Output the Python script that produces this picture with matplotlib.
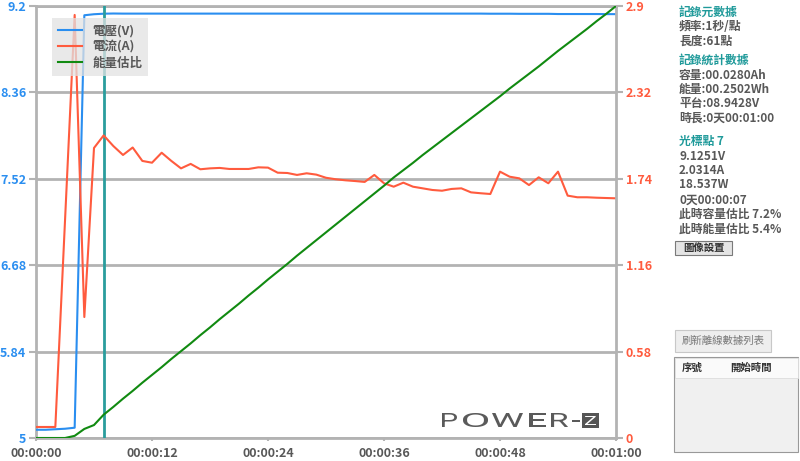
import matplotlib
matplotlib.use('Agg')
import matplotlib.pyplot as plt
from matplotlib.patches import Rectangle, PathPatch
from matplotlib.lines import Line2D
from matplotlib.textpath import TextPath
from matplotlib.font_manager import FontProperties
from matplotlib.transforms import Affine2D, IdentityTransform

plt.rcParams['font.family'] = ['Noto Sans CJK TC', 'DejaVu Sans']

# data, one sample per second
seconds = list(range(61))
voltage = [5.08, 5.08, 5.085, 5.09, 5.10, 9.11, 9.12, 9.1251, 9.127, 9.126,
           9.126, 9.126, 9.126, 9.126, 9.126, 9.126, 9.126, 9.126, 9.126, 9.126,
           9.126, 9.126, 9.126, 9.126, 9.126, 9.126, 9.126, 9.126, 9.126, 9.126,
           9.126, 9.126, 9.126, 9.126, 9.126, 9.126, 9.126, 9.126, 9.126, 9.126,
           9.126, 9.126, 9.126, 9.126, 9.126, 9.126, 9.126, 9.125, 9.125, 9.125,
           9.124, 9.124, 9.124, 9.124, 9.122, 9.122, 9.122, 9.122, 9.122, 9.121, 9.121]
current = [0.074, 0.074, 0.074, 1.457, 2.84, 0.812, 1.947, 2.0314, 1.96, 1.90,
           1.95, 1.86, 1.848, 1.915, 1.86, 1.81, 1.84, 1.804, 1.81, 1.813,
           1.806, 1.806, 1.806, 1.817, 1.815, 1.781, 1.779, 1.766, 1.777, 1.768,
           1.747, 1.737, 1.730, 1.725, 1.719, 1.766, 1.710, 1.687, 1.714, 1.687,
           1.676, 1.665, 1.660, 1.672, 1.676, 1.649, 1.643, 1.638, 1.788, 1.754,
           1.743, 1.698, 1.750, 1.710, 1.788, 1.627, 1.616, 1.616, 1.613, 1.611, 1.609]
energy_pct = [0, 0, 0, 0, 0.5, 2.1, 3.0, 5.4, 7.2, 9.1,
              10.9, 12.8, 14.6, 16.4, 18.3, 20.1, 21.9, 23.8, 25.6, 27.5,
              29.3, 31.1, 33.0, 34.8, 36.7, 38.5, 40.3, 42.2, 44.0, 45.8,
              47.6, 49.4, 51.2, 53.0, 54.8, 56.6, 58.4, 60.3, 62.0, 63.7,
              65.5, 67.2, 68.9, 70.6, 72.3, 74.0, 75.7, 77.4, 79.1, 80.9,
              82.6, 84.3, 86.0, 87.8, 89.6, 91.3, 93.0, 94.7, 96.5, 98.2, 100]
cursor_t = 7

x_ticks = [0, 12, 24, 36, 48, 60]
x_labels = ['00:00:00', '00:00:12', '00:00:24', '00:00:36', '00:00:48', '00:01:00']
v_ticks = [5, 5.84, 6.68, 7.52, 8.36, 9.2]
v_labels = ['5', '5.84', '6.68', '7.52', '8.36', '9.2']
a_ticks = [0, 0.58, 1.16, 1.74, 2.32, 2.9]
a_labels = ['0', '0.58', '1.16', '1.74', '2.32', '2.9']

series_names = ['電壓(V)', '電流(A)', '能量估比']

info_lines = [
    ('記錄元數據', True),
    ('頻率:1秒/點', False),
    ('長度:61點', False),
    ('記錄統計數據', True),
    ('容量:00.0280Ah', False),
    ('能量:00.2502Wh', False),
    ('平台:08.9428V', False),
    ('時長:0天00:01:00', False),
    ('光標點 7', True),
    ('9.1251V', False),
    ('2.0314A', False),
    ('18.537W', False),
    ('0天00:00:07', False),
    ('此時容量估比 7.2%', False),
    ('此時能量估比 5.4%', False),
]
info_y = [12, 27, 41, 60, 75, 89, 103, 118, 141, 156, 170, 185, 200, 214, 229]

BLUE = '#2a8ef0'
RED = '#ff5b3e'
GREEN = '#118a11'
TEAL = '#2a9d9d'
GRAY = '#b3b3b3'
TXT = '#585858'
HEAD = '#1f9a9a'

W, H = 800, 461
fig = plt.figure(figsize=(W / 100, H / 100), dpi=100)
ax = fig.add_axes([36 / W, 23 / H, 580 / W, 432 / H])
ax2 = ax.twinx()
ax3 = ax.twinx()

ax.plot(seconds, voltage, color=BLUE, lw=1.5, zorder=3)
ax2.plot(seconds, current, color=RED, lw=1.5)
ax3.plot(seconds, energy_pct, color=GREEN, lw=1.5)
ax.axvline(cursor_t, color=TEAL, lw=2, zorder=4)

ax.set_xlim(0, 60)
ax.set_ylim(5, 9.2)
ax2.set_ylim(0, 2.9)
ax3.set_ylim(0, 100)
ax3.axis('off')

ax.set_xticks(x_ticks)
ax.set_xticklabels(x_labels, fontsize=9, fontweight='bold', color=TXT)
ax.set_yticks(v_ticks)
ax.set_yticklabels(v_labels, fontsize=9, fontweight='bold', color=BLUE)
ax2.set_yticks(a_ticks)
ax2.set_yticklabels(a_labels, fontsize=9, fontweight='bold', color=RED)

ax.yaxis.grid(True, color=GRAY, lw=2)
ax.set_axisbelow(True)
ax.tick_params(axis='y', length=5, width=1.5, color=GRAY, pad=2)
ax.tick_params(axis='x', length=2.5, width=1.5, color=GRAY, pad=4)
ax2.tick_params(axis='y', length=5, width=1.5, color=GRAY, pad=2)

for s in ax.spines.values():
    s.set_color(GRAY)
    s.set_linewidth(2)
ax.spines['right'].set_visible(False)
for name, s in ax2.spines.items():
    s.set_visible(name == 'right')
    s.set_color(GRAY)
    s.set_linewidth(2)

handles = [Line2D([], [], color=c, lw=1.5) for c in (BLUE, RED, GREEN)]
leg = ax3.legend(handles, series_names, loc='upper left',
                 bbox_to_anchor=(0.028, 0.972), borderaxespad=0,
                 fontsize=9, frameon=True, fancybox=False,
                 facecolor='#e2e2e2', edgecolor='none', framealpha=0.75,
                 handlelength=1.9, labelspacing=0.25, borderpad=0.5)
for t in leg.get_texts():
    t.set_color(TXT)
    t.set_fontweight('bold')


# POWER-Z logo, each letter stretched into its own box (pixel coords, y down)
def logo_glyph(ch, x0, x1, y0, y1, color):
    tp = TextPath((0, 0), ch, size=20,
                  prop=FontProperties(family='Roboto', weight='normal'))
    e = tp.get_extents()
    tr = (Affine2D().translate(-e.x0, -e.y0)
          .scale((x1 - x0) / e.width, (y1 - y0) / e.height)
          .translate(x0, H - y1))
    fig.patches.append(PathPatch(tr.transform_path(tp), facecolor=color,
                                 edgecolor='none', transform=IdentityTransform()))


logo_boxes = [('P', 442, 457), ('O', 463, 488), ('W', 492, 523),
              ('E', 529, 546), ('R', 551, 568)]
for ch, x0, x1 in logo_boxes:
    logo_glyph(ch, x0, x1, 413, 427, '#5a5a5a')
fig.patches.append(Rectangle((572 / W, 1 - 421.5 / H), 8 / W, 2 / H,
                             transform=fig.transFigure, facecolor='#5a5a5a',
                             edgecolor='none'))
fig.patches.append(Rectangle((582 / W, 1 - 428 / H), 17 / W, 15 / H,
                             transform=fig.transFigure, facecolor='#555555',
                             edgecolor='none'))
logo_glyph('Z', 585, 596, 416, 425, 'white')

# side panel
for (txt, head), y in zip(info_lines, info_y):
    fig.text(679 / W, 1 - y / H, txt, fontsize=8.5, fontweight='bold',
             color=HEAD if head else TXT, ha='left', va='center')

fig.patches.append(Rectangle((675 / W, 1 - 255 / H), 57 / W, 14 / H,
                             transform=fig.transFigure, facecolor='#e4e4e4',
                             edgecolor='#7a7a7a', lw=0.8))
fig.text(703.5 / W, 1 - 248 / H, '圖像設置', fontsize=7.5, fontweight='bold',
         color='#333333', ha='center', va='center')

fig.patches.append(Rectangle((675 / W, 1 - 352 / H), 96 / W, 22 / H,
                             transform=fig.transFigure, facecolor='#eeeeee',
                             edgecolor='#c8c8c8', lw=0.8))
fig.text(723 / W, 1 - 341 / H, '刷新離線數據列表', fontsize=7.5,
         color='#777777', ha='center', va='center')

fig.patches.append(Rectangle((674 / W, 1 - 452 / H), 124 / W, 95 / H,
                             transform=fig.transFigure, facecolor='#f0f0f0',
                             edgecolor='#999999', lw=0.8))
fig.patches.append(Rectangle((674.5 / W, 1 - 378 / H), 123 / W, 20.5 / H,
                             transform=fig.transFigure, facecolor='#fafafa',
                             edgecolor='#dddddd', lw=0.6))
fig.text(692 / W, 1 - 368 / H, '序號', fontsize=7.5, fontweight='bold',
         color='#333333', ha='center', va='center')
fig.text(751 / W, 1 - 368 / H, '開始時間', fontsize=7.5, fontweight='bold',
         color='#333333', ha='center', va='center')

fig.savefig('out.png', dpi=100)
